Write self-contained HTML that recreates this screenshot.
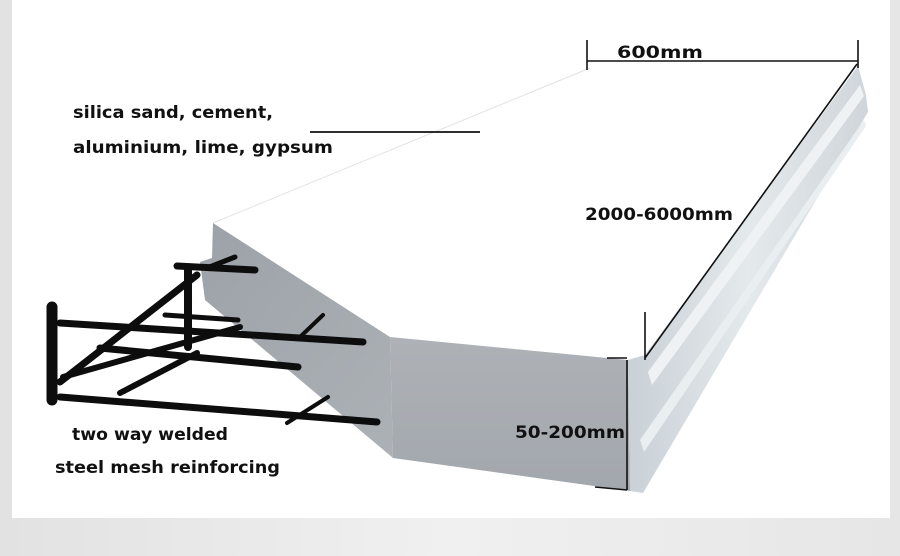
<!DOCTYPE html>
<html><head><meta charset="utf-8"><style>
html,body{margin:0;padding:0;width:900px;height:556px;overflow:hidden;background:#ebebeb}
</style></head><body>
<svg width="900" height="556" xmlns="http://www.w3.org/2000/svg" style="display:block">
<defs>
<linearGradient id="bg" x1="0" y1="0" x2="1" y2="0"><stop offset="0" stop-color="#e2e2e2"/><stop offset="0.5" stop-color="#f0f0f0"/><stop offset="1" stop-color="#e6e6e6"/></linearGradient>
<linearGradient id="lf" x1="0" y1="0" x2="1" y2="1"><stop offset="0" stop-color="#9da2a8"/><stop offset="1" stop-color="#acb1b6"/></linearGradient>
<linearGradient id="ff" x1="0" y1="0" x2="0" y2="1"><stop offset="0" stop-color="#aeb2b7"/><stop offset="1" stop-color="#a2a7ad"/></linearGradient>
<linearGradient id="rf" x1="0" y1="0" x2="1" y2="0"><stop offset="0" stop-color="#c9d0d6"/><stop offset="0.5" stop-color="#e4e9ec"/><stop offset="1" stop-color="#cfd5da"/></linearGradient>
</defs>
<rect x="0" y="0" width="900" height="556" fill="url(#bg)"/>
<rect x="12" y="0" width="878" height="518" fill="#ffffff"/>
<polygon points="213,223 590,68 858,66 645,355 390,337" fill="#ffffff"/>
<line x1="213" y1="223" x2="590" y2="68" stroke="#e2e2e2" stroke-width="1"/>
<polygon points="213,223 390,337 393,458 205,300 200,262 212,258" fill="url(#lf)"/>
<polygon points="390,337 628,360 630,491 393,458" fill="url(#ff)"/>
<polygon points="628,360 645,355 858,66 866,95 868,112 643,493 630,491" fill="url(#rf)"/>
<polygon points="648,372 860,85 864,96 652,385" fill="#eef2f5"/>
<polygon points="640,440 864,120 866,126 644,452" fill="#e9eef1"/>
<g stroke="#0d0d0d" stroke-linecap="round" fill="none">
<line x1="52" y1="307" x2="52" y2="400" stroke-width="11"/>
<line x1="60" y1="323" x2="363" y2="342" stroke-width="7"/>
<line x1="60" y1="397" x2="377" y2="422" stroke-width="7"/>
<line x1="60" y1="382" x2="197" y2="275" stroke-width="7"/>
<line x1="100" y1="348" x2="298" y2="367" stroke-width="7"/>
<line x1="177" y1="266" x2="255" y2="270" stroke-width="7"/>
<line x1="188" y1="270" x2="188" y2="347" stroke-width="8"/>
<line x1="207" y1="268" x2="235" y2="257" stroke-width="5"/>
<line x1="63" y1="377" x2="240" y2="327" stroke-width="6"/>
<line x1="120" y1="393" x2="197" y2="353" stroke-width="6"/>
<line x1="300" y1="337" x2="323" y2="315" stroke-width="4"/>
<line x1="287" y1="423" x2="328" y2="397" stroke-width="4"/>
<line x1="165" y1="315" x2="238" y2="320" stroke-width="5"/>
</g>
<g stroke="#111" stroke-width="1.6" fill="none">
<line x1="587" y1="40" x2="587" y2="70"/>
<line x1="858" y1="40" x2="858" y2="68"/>
<line x1="587" y1="61" x2="858" y2="61"/>
<line x1="645" y1="312" x2="645" y2="360"/>
<line x1="645" y1="358" x2="857" y2="64"/>
<line x1="627" y1="360" x2="627" y2="490"/>
<line x1="607" y1="358" x2="627" y2="358"/>
<line x1="595" y1="487" x2="627" y2="490"/>
<line x1="310" y1="132" x2="480" y2="132" stroke-width="1.8"/>
</g>
<g font-family="'DejaVu Sans','Liberation Sans',sans-serif" font-weight="bold" font-size="17" fill="#111" lengthAdjust="spacingAndGlyphs">
<text x="73" y="118" textLength="200" lengthAdjust="spacingAndGlyphs">silica sand, cement,</text>
<text x="73" y="153" textLength="260" lengthAdjust="spacingAndGlyphs">aluminium, lime, gypsum</text>
<text x="617" y="58" textLength="86" lengthAdjust="spacingAndGlyphs">600mm</text>
<text x="585" y="220" textLength="148" lengthAdjust="spacingAndGlyphs">2000-6000mm</text>
<text x="515" y="438" textLength="110" lengthAdjust="spacingAndGlyphs">50-200mm</text>
<text x="72" y="440" textLength="156" lengthAdjust="spacingAndGlyphs">two way welded</text>
<text x="55" y="473" textLength="225" lengthAdjust="spacingAndGlyphs">steel mesh reinforcing</text>
</g>
</svg>
</body></html>
